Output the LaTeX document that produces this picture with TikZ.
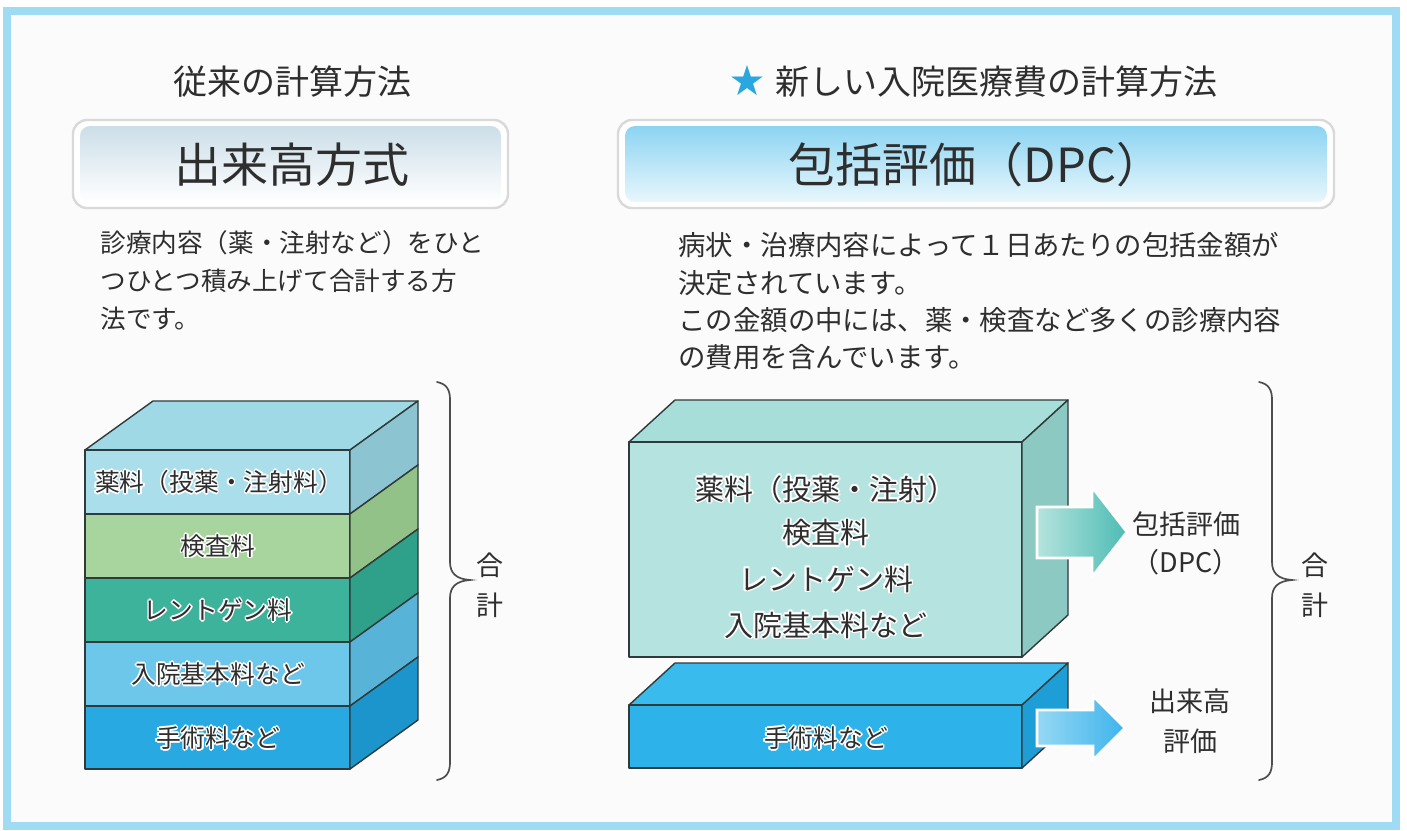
\documentclass[tikz,border=0pt]{standalone}
\usepackage{fontspec}
\setmainfont{Noto Sans CJK JP}
\definecolor{txt}{HTML}{2E2E2E}
\definecolor{framec}{HTML}{9FDBF2}
\definecolor{bgc}{HTML}{FAFBFA}
\definecolor{starblue}{HTML}{2AA7DF}
\definecolor{lineC}{HTML}{2F3A3A}
\definecolor{aF}{HTML}{A9DEEA}\definecolor{aS}{HTML}{8CC4D1}\definecolor{aT}{HTML}{A0D9E6}
\definecolor{bF}{HTML}{A8D49E}\definecolor{bS}{HTML}{92C288}
\definecolor{cF}{HTML}{3EB39B}\definecolor{cS}{HTML}{2FA08A}
\definecolor{dF}{HTML}{6CC7EA}\definecolor{dS}{HTML}{58B3D8}
\definecolor{eF}{HTML}{28A9E1}\definecolor{eS}{HTML}{1C95CC}
\definecolor{gF}{HTML}{B5E4E0}\definecolor{gT}{HTML}{A8DED9}\definecolor{gS}{HTML}{8CC9C2}
\definecolor{hF}{HTML}{2DB2EA}\definecolor{hT}{HTML}{3ABBEE}\definecolor{hS}{HTML}{1D9ED6}
\newcommand{\hlo}[1]{\leavevmode
 \rlap{\color{white}\hspace{0.8pt}#1}\rlap{\color{white}\hspace{-0.8pt}#1}%
 \rlap{\color{white}\raisebox{0.8pt}{#1}}\rlap{\color{white}\raisebox{-0.8pt}{#1}}%
 \rlap{\color{white}\hspace{0.6pt}\raisebox{0.6pt}{#1}}\rlap{\color{white}\hspace{-0.6pt}\raisebox{0.6pt}{#1}}%
 \rlap{\color{white}\hspace{0.6pt}\raisebox{-0.6pt}{#1}}\rlap{\color{white}\hspace{-0.6pt}\raisebox{-0.6pt}{#1}}%
 #1}
\tikzset{
  ttl/.style={font=\fontsize{17pt}{20pt}\selectfont, text=txt, inner sep=0pt},
  bigttl/.style={font=\fontsize{23.5pt}{26pt}\selectfont, text=txt, inner sep=0pt},
  desc/.style={font=\fontsize{12.8pt}{16pt}\selectfont, text=txt, inner sep=0pt, anchor=west},
  desc2/.style={font=\fontsize{13.7pt}{16pt}\selectfont, text=txt, inner sep=0pt, anchor=west},
  lay/.style={font=\fontsize{12.4pt}{15pt}\selectfont, text=txt, inner sep=0pt},
  blk/.style={font=\fontsize{14.5pt}{17pt}\selectfont, text=txt, inner sep=0pt},
  lab/.style={font=\fontsize{13.5pt}{16pt}\selectfont, text=txt, inner sep=0pt},
  edge3d/.style={draw=lineC, line width=0.7pt, line join=round},
  brc/.style={draw=txt!85, line width=0.85pt, line cap=round},
  tbox/.style={fill=white, draw=black!15, line width=1.2pt, rounded corners=7pt},
}
\begin{document}
\begin{tikzpicture}[x=0.5pt,y=-0.5pt]
\useasboundingbox (0,0) rectangle (1407,830);
\fill[white] (0,0) rectangle (1407,830);
\fill[bgc] (11,15) rectangle (1392,822);
\draw[framec, line width=4pt] (7,11) rectangle (1396,826);

% ---------- titles ----------
\node[ttl] (t1) at (292,82) {従来の計算方法};
\node[ttl, text=starblue] (star) at (747,81) {★};
\node[ttl, anchor=west] (t2) at (775,82) {新しい入院医療費の計算方法};

\draw[tbox] (73,120) rectangle (508,208);
\shade[top color={rgb,255:red,204;green,222;blue,232}, bottom color=white, rounded corners=5pt] (80,126) rectangle (501,202);
\node[bigttl] (b1) at (292,165) {出来高方式};

\draw[tbox] (618,120) rectangle (1334,208);
\shade[top color={rgb,255:red,140;green,212;blue,242}, bottom color={rgb,255:red,232;green,247;blue,252}, rounded corners=5pt] (625,126) rectangle (1327,202);
\node[bigttl] (b2) at (976,165) {包括評価（DPC）};

% ---------- descriptions ----------
\node[desc] (dl1) at (100,243) {診療内容（薬・注射など）をひと};
\node[desc] (dl2) at (100,281) {つひとつ積み上げて合計する方};
\node[desc] (dl3) at (100,319) {法です。};

\node[desc2] (dr1) at (678,245) {病状・治療内容によって１日あたりの包括金額が};
\node[desc2] (dr2) at (678,283) {決定されています。};
\node[desc2] (dr3) at (678,320) {この金額の中には、薬・検査など多くの診療内容};
\node[desc2] (dr4) at (678,357) {の費用を含んでいます。};

% ---------- left stack ----------
\filldraw[edge3d, fill=aT] (85,450) -- (153,401) -- (418,401) -- (350,450) -- cycle;
\foreach \yt/\yb/\cf/\cs in {450/514/aF/aS, 514/578/bF/bS, 578/642/cF/cS, 642/706/dF/dS, 706/769/eF/eS}{
  \filldraw[edge3d, fill=\cf] (85,\yt) rectangle (350,\yb);
  \filldraw[edge3d, fill=\cs] (350,\yt) -- (418,{\yt-49}) -- (418,{\yb-49}) -- (350,\yb) -- cycle;
}
\node[lay] (L1) at (219,482) {\hlo{薬料（投薬・注射料）}};
\node[lay] (L2) at (218,546) {\hlo{検査料}};
\node[lay] (L3) at (218,610) {\hlo{レントゲン料}};
\node[lay] (L4) at (218,674) {\hlo{入院基本料など}};
\node[lay] (L5) at (218,738) {\hlo{手術料など}};

% ---------- right blocks ----------
\filldraw[edge3d, fill=gT] (629,442) -- (675,400) -- (1068,400) -- (1022,442) -- cycle;
\filldraw[edge3d, fill=gF] (629,442) rectangle (1022,657);
\filldraw[edge3d, fill=gS] (1022,442) -- (1068,400) -- (1068,615) -- (1022,657) -- cycle;
\node[blk] (R1) at (826,489) {\hlo{薬料（投薬・注射）}};
\node[blk] (R2) at (826,533) {\hlo{検査料}};
\node[blk] (R3) at (826,579) {\hlo{レントゲン料}};
\node[blk] (R4) at (826,625) {\hlo{入院基本料など}};

\filldraw[edge3d, fill=hT] (629,705) -- (675,663) -- (1068,663) -- (1022,705) -- cycle;
\filldraw[edge3d, fill=hF] (629,705) rectangle (1022,768);
\filldraw[edge3d, fill=hS] (1022,705) -- (1068,663) -- (1068,726) -- (1022,768) -- cycle;
\node[lay] (R5) at (826,738) {\hlo{手術料など}};

% ---------- block arrows ----------
\shade[left color={rgb,255:red,182;green,228;blue,222}, right color={rgb,255:red,76;green,188;blue,180}, draw=white, line width=1.4pt, line join=miter]
  (1037,507) -- (1092,507) -- (1092,487) -- (1127,532) -- (1092,577) -- (1092,558) -- (1037,558) -- cycle;
\shade[left color={rgb,255:red,150;green,216;blue,244}, right color={rgb,255:red,62;green,180;blue,236}, draw=white, line width=1.4pt, line join=miter]
  (1037,710) -- (1093,710) -- (1093,696) -- (1125,728) -- (1093,760) -- (1093,746) -- (1037,746) -- cycle;

\node[lab] (p1) at (1186,524) {包括評価};
\node[lab] (p2) at (1186,562) {（DPC）};
\node[lab] (q1) at (1190,701) {出来高};
\node[lab] (q2) at (1190,741) {評価};

% ---------- braces ----------
\foreach \bx in {450,1272}{
  \draw[brc] ({\bx-13},382) .. controls ({\bx-3},384) and (\bx,390) .. (\bx,400) -- (\bx,562)
    .. controls (\bx,573) and ({\bx+6},579) .. ({\bx+20},580)
    .. controls ({\bx+6},581) and (\bx,587) .. (\bx,598) -- (\bx,762)
    .. controls (\bx,772) and ({\bx-3},778) .. ({\bx-13},780);
}
\node[lab] (s1) at (490,565) {合};
\node[lab] (s2) at (490,605) {計};
\node[lab] (s3) at (1315,565) {合};
\node[lab] (s4) at (1315,605) {計};
\end{tikzpicture}
\end{document}
